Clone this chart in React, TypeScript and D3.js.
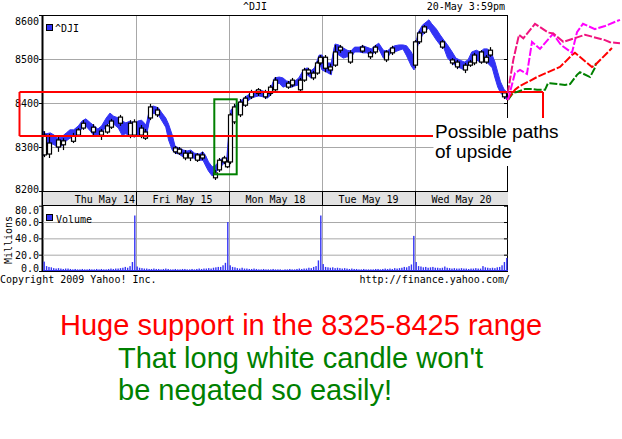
import React from 'react';
import * as d3 from 'd3';

// ---------- data ----------
const dayLabels = ['Thu May 14', 'Fri May 15', 'Mon May 18', 'Tue May 19', 'Wed May 20'];
const priceTicks = [8200, 8300, 8400, 8500, 8600];
const volTicks = [0, 20, 40, 60, 80];

// [time in trading days, high, low] of the blue ^DJI trace
const blueBand: [number, number, number][] = [
  [0.0, 8336, 8280], [0.03, 8330, 8293], [0.08, 8332, 8309], [0.12, 8327, 8305], [0.16, 8320, 8298],
  [0.2, 8323, 8302], [0.25, 8332, 8314], [0.29, 8339, 8320], [0.33, 8339, 8323], [0.38, 8348, 8330],
  [0.42, 8359, 8343], [0.46, 8364, 8348], [0.51, 8355, 8336], [0.55, 8348, 8325], [0.59, 8341, 8327],
  [0.63, 8348, 8332], [0.68, 8366, 8348], [0.72, 8377, 8357], [0.76, 8370, 8352], [0.81, 8366, 8343],
  [0.85, 8359, 8327], [0.89, 8355, 8330], [0.94, 8359, 8325], [0.98, 8352, 8323],
  [1.02, 8359, 8327], [1.06, 8361, 8334], [1.11, 8350, 8323], [1.15, 8391, 8366], [1.19, 8393, 8377],
  [1.24, 8389, 8373], [1.28, 8377, 8359], [1.32, 8366, 8345], [1.35, 8352, 8316], [1.39, 8327, 8293],
  [1.42, 8302, 8286], [1.46, 8298, 8284], [1.51, 8293, 8277], [1.55, 8291, 8277], [1.59, 8293, 8280],
  [1.63, 8286, 8273], [1.68, 8284, 8270], [1.72, 8289, 8270], [1.75, 8280, 8257], [1.78, 8266, 8245],
  [1.82, 8255, 8234], [1.86, 8259, 8243], [1.9, 8270, 8252], [1.95, 8277, 8264], [1.98, 8270, 8257],
  [2.02, 8384, 8357], [2.06, 8393, 8366], [2.11, 8402, 8377], [2.15, 8409, 8393], [2.19, 8416, 8402],
  [2.24, 8423, 8411], [2.28, 8427, 8414], [2.32, 8430, 8416], [2.37, 8427, 8414], [2.41, 8425, 8411],
  [2.45, 8434, 8418], [2.49, 8457, 8443], [2.54, 8459, 8445], [2.58, 8457, 8436], [2.62, 8450, 8439],
  [2.67, 8448, 8436], [2.71, 8450, 8439], [2.75, 8457, 8441], [2.8, 8475, 8459], [2.84, 8480, 8464],
  [2.88, 8473, 8457], [2.92, 8480, 8461], [2.97, 8509, 8493], [3.0, 8509, 8475],
  [3.05, 8491, 8470], [3.1, 8491, 8464], [3.14, 8534, 8516], [3.18, 8532, 8509], [3.23, 8525, 8502],
  [3.27, 8520, 8505], [3.31, 8518, 8502], [3.35, 8527, 8516], [3.4, 8527, 8516], [3.44, 8530, 8514],
  [3.48, 8527, 8514], [3.53, 8523, 8509], [3.57, 8530, 8516], [3.61, 8536, 8523], [3.66, 8520, 8502],
  [3.7, 8518, 8502], [3.74, 8525, 8514], [3.78, 8530, 8516], [3.83, 8532, 8520], [3.87, 8532, 8523],
  [3.91, 8530, 8507], [3.96, 8516, 8484], [3.99, 8502, 8475],
  [4.03, 8559, 8532], [4.08, 8577, 8554], [4.12, 8584, 8566], [4.15, 8589, 8570], [4.18, 8580, 8559],
  [4.23, 8568, 8543], [4.27, 8555, 8532], [4.31, 8543, 8525], [4.35, 8532, 8502], [4.4, 8516, 8491],
  [4.44, 8502, 8484], [4.48, 8498, 8480], [4.53, 8493, 8475], [4.57, 8498, 8484], [4.61, 8516, 8493],
  [4.66, 8520, 8498], [4.7, 8516, 8493], [4.74, 8523, 8498], [4.78, 8523, 8491], [4.83, 8509, 8480],
  [4.86, 8493, 8457], [4.89, 8470, 8436], [4.92, 8448, 8423], [4.96, 8430, 8414], [4.99, 8425, 8407],
];

// [time, open, high, low, close]
const candles: [number, number, number, number, number][] = [
  [0.011, 8282, 8336, 8277, 8327], [0.065, 8309, 8330, 8275, 8284], [0.161, 8300, 8323, 8289, 8316],
  [0.215, 8314, 8320, 8293, 8305], [0.323, 8313, 8332, 8309, 8325], [0.376, 8327, 8343, 8323, 8339],
  [0.43, 8343, 8361, 8339, 8354], [0.538, 8345, 8352, 8323, 8334], [0.624, 8327, 8341, 8316, 8336],
  [0.688, 8334, 8352, 8330, 8348], [0.731, 8345, 8364, 8341, 8359], [0.828, 8368, 8373, 8348, 8354],
  [0.935, 8354, 8361, 8320, 8327], [0.978, 8327, 8363, 8322, 8357],
  [1.054, 8343, 8350, 8320, 8327], [1.097, 8320, 8341, 8316, 8334], [1.151, 8366, 8398, 8361, 8391],
  [1.226, 8384, 8391, 8368, 8373], [1.419, 8298, 8302, 8284, 8289], [1.462, 8295, 8300, 8282, 8286],
  [1.527, 8286, 8293, 8270, 8275], [1.581, 8286, 8291, 8268, 8275], [1.656, 8282, 8286, 8266, 8270],
  [1.71, 8282, 8289, 8270, 8275], [1.849, 8241, 8248, 8225, 8230], [1.892, 8248, 8275, 8243, 8270],
  [1.946, 8275, 8280, 8261, 8266], [1.978, 8266, 8270, 8252, 8255], [2.011, 8266, 8377, 8261, 8373],
  [2.054, 8357, 8398, 8352, 8391], [2.118, 8373, 8409, 8368, 8402], [2.172, 8395, 8416, 8391, 8411],
  [2.237, 8414, 8430, 8409, 8425], [2.312, 8422, 8434, 8416, 8430], [2.387, 8425, 8430, 8409, 8414],
  [2.441, 8422, 8441, 8416, 8436], [2.495, 8430, 8459, 8425, 8452], [2.634, 8445, 8450, 8432, 8436],
  [2.677, 8441, 8457, 8436, 8452], [2.763, 8430, 8457, 8425, 8452], [2.806, 8452, 8480, 8448, 8475],
  [2.849, 8475, 8480, 8464, 8468], [2.903, 8468, 8473, 8452, 8457], [2.946, 8468, 8495, 8464, 8491],
  [2.978, 8491, 8509, 8486, 8504],
  [3.032, 8504, 8509, 8470, 8479], [3.086, 8482, 8489, 8466, 8475], [3.14, 8486, 8532, 8482, 8516],
  [3.194, 8520, 8532, 8514, 8527], [3.301, 8514, 8520, 8489, 8493], [3.43, 8518, 8532, 8514, 8527],
  [3.516, 8514, 8518, 8500, 8505], [3.57, 8516, 8532, 8511, 8527], [3.688, 8516, 8520, 8493, 8498],
  [3.753, 8514, 8530, 8509, 8525], [4.0, 8486, 8543, 8479, 8539],
  [4.043, 8539, 8564, 8534, 8559], [4.097, 8561, 8577, 8557, 8573], [4.29, 8539, 8543, 8523, 8527],
  [4.398, 8498, 8502, 8486, 8491], [4.452, 8493, 8498, 8477, 8482], [4.538, 8486, 8491, 8468, 8475],
  [4.591, 8486, 8498, 8482, 8493], [4.634, 8491, 8514, 8486, 8509], [4.71, 8493, 8520, 8489, 8516],
  [4.763, 8504, 8509, 8489, 8493], [4.806, 8509, 8527, 8505, 8520], [4.957, 8423, 8427, 8409, 8414],
];

// volume in millions, 39 bars per day
const volDay1 = [11.5, 6, 5, 4.5, 3.5, 3, 3.5, 3, 2.5, 3, 3, 2.5, 2, 2.5, 2, 2, 2.5, 2, 2, 2.5, 2, 2, 2.5, 2, 2.5, 2, 2, 2.5, 3, 2.5, 3, 3, 3.5, 4, 5, 4, 6, 11, 68];
const volDay2 = [5.5, 4, 3.5, 3, 3, 2.5, 2.5, 3, 2.5, 2.5, 2, 2.5, 3, 2.5, 2, 2, 2.5, 2, 2, 2.5, 2.5, 2, 2, 2.5, 2, 2.5, 3, 2.5, 3, 3, 3.5, 3, 4, 4.5, 5, 5, 7, 10, 60];
const volDay3 = [7, 5, 4.5, 3.5, 3, 4, 3, 3, 2.5, 2.5, 3, 2.5, 2, 2, 2.5, 2, 2, 2, 2.5, 2, 2, 2, 1.5, 2, 2, 2.5, 2, 2, 2.5, 3, 2.5, 3, 3, 4, 3.5, 5, 6, 13, 68];
const volDay4 = [8.5, 5, 4.5, 4, 4.5, 3.5, 4, 3.5, 3, 3.5, 3, 2.5, 3, 2.5, 2.5, 2, 2, 2.5, 2, 2, 2, 2, 2.5, 2.5, 2, 2.5, 3, 2.5, 3, 2.5, 3.5, 3, 3.5, 4, 5, 4.5, 6, 8, 43];
const volDay5 = [11, 6, 5.5, 4.5, 5, 4, 4.5, 5, 4, 4, 3.5, 4, 5.5, 4, 3.5, 3, 3.5, 3, 3, 3.5, 3, 3, 2.5, 3, 3, 3.5, 3, 3, 6, 4.5, 4, 3.5, 4, 3.5, 4.5, 5, 7, 11, 16];

// hand-drawn projected paths [time, price]
const pathDeepPink: [number, number][] = [
  [4.997, 8422], [5.057, 8498], [5.118, 8555], [5.165, 8547], [5.29, 8580], [5.433, 8560], [5.487, 8558],
  [5.595, 8539], [5.828, 8555], [6.043, 8543], [6.097, 8538], [6.151, 8537], [6.204, 8536],
];
const pathMagenta: [number, number][] = [
  [5.0, 8407], [5.075, 8468], [5.129, 8475], [5.204, 8466], [5.258, 8539], [5.344, 8523], [5.484, 8557],
  [5.57, 8532], [5.688, 8514], [5.742, 8561], [5.806, 8580], [5.935, 8568], [6.043, 8575], [6.204, 8589],
];
const pathRed: [number, number][] = [
  [4.989, 8407], [5.075, 8430], [5.129, 8439], [5.215, 8448], [5.312, 8459], [5.559, 8482], [5.613, 8493],
  [5.688, 8509], [5.72, 8514], [5.903, 8482], [5.935, 8486], [6.011, 8502], [6.118, 8525],
];
const pathGreen: [number, number][] = [
  [5.0, 8407], [5.054, 8423], [5.097, 8425], [5.183, 8432], [5.258, 8432], [5.312, 8430], [5.398, 8430],
  [5.43, 8445], [5.452, 8445], [5.613, 8441], [5.667, 8443], [5.742, 8464], [5.774, 8470], [5.882, 8459],
  [5.935, 8480], [5.946, 8491],
];

const supportBand = [8325, 8425];

// ---------- component ----------
const MONO = '"DejaVu Sans Mono", monospace';
const SANS = '"Liberation Sans", Arial, sans-serif';
const BLUE = '#3333f5';
const GRID = '#a8a8a8';

export default function App() {
  const L = 43, R = 508;
  const x = d3.scaleLinear().domain([0, 5]).range([L, R]);
  const y = d3.scaleLinear().domain([8200, 8600]).range([191, 15]);
  const yv = d3.scaleLinear().domain([0, 80]).range([271, 205.7]);

  const area = d3.area<[number, number, number]>()
    .x(d => x(d[0])).y0(d => y(d[2])).y1(d => y(d[1]));
  const mid = d3.line<[number, number, number]>()
    .x(d => x(d[0])).y(d => y((d[1] + d[2]) / 2));
  const pline = d3.line<[number, number]>().x(d => x(d[0])).y(d => y(d[1]));

  const vols = [volDay1, volDay2, volDay3, volDay4, volDay5];
  const dayBounds = [1, 2, 3, 4];

  const projections: [[number, number][], string][] = [
    [pathGreen, '#008000'], [pathRed, '#ff0000'], [pathMagenta, '#ff00ff'], [pathDeepPink, '#f0147f'],
  ];

  const supTop = y(supportBand[1]);
  const supBot = y(supportBand[0]);

  return (
    <svg width={622} height={439} style={{ position: 'absolute', left: 0, top: 0, background: '#fff' }}
      fontFamily={MONO}>
      <rect x={0} y={0} width={622} height={439} fill="#fff" />
      {/* title */}
      <text x={255} y={10} fontSize={10} textAnchor="middle">^DJI</text>
      <text x={505} y={10} fontSize={10} textAnchor="end">20-May 3:59pm</text>

      {/* price grid */}
      {priceTicks.slice(1, 4).map(p => (
        <line key={p} x1={L} x2={R} y1={y(p) + 0.5} y2={y(p) + 0.5} stroke={GRID} />
      ))}
      {dayBounds.map(d => (
        <line key={d} x1={Math.round(x(d)) + 0.5} x2={Math.round(x(d)) + 0.5} y1={15} y2={191} stroke={GRID} />
      ))}
      {priceTicks.map(p => (
        <g key={'t' + p}>
          <line x1={39} x2={L} y1={y(p) + 0.5} y2={y(p) + 0.5} stroke="#000" />
          <line x1={R - 4} x2={R} y1={y(p) + 0.5} y2={y(p) + 0.5} stroke="#000" />
          <text x={39} y={Math.min(193, Math.max(25, y(p) + 4))} fontSize={10} textAnchor="end">{p}</text>
        </g>
      ))}

      {/* blue trace */}
      <path d={area(blueBand) || ''} fill={BLUE} stroke={BLUE} strokeWidth={1} strokeLinejoin="miter" />
      <path d={mid(blueBand) || ''} fill="none" stroke={BLUE} strokeWidth={2.5} />

      {/* candles */}
      {candles.map((c, i) => {
        const cx = Math.round(x(c[0])) + 0.5;
        const top = y(Math.max(c[1], c[4]));
        const bot = y(Math.min(c[1], c[4]));
        return (
          <g key={i} stroke="#000" strokeWidth={1.2}>
            <line x1={cx} x2={cx} y1={y(c[2])} y2={y(c[3])} />
            <rect x={cx - 2} y={top} width={4} height={Math.max(1.5, bot - top)} fill="#fff" />
          </g>
        );
      })}

      {/* legend */}
      <rect x={46.5} y={24.5} width={6} height={6} fill={BLUE} stroke="#000" />
      <text x={55} y={31.5} fontSize={10}>^DJI</text>

      {/* frame */}
      <line x1={L} x2={R} y1={15.5} y2={15.5} stroke="#000" />
      <line x1={R - 0.5} x2={R - 0.5} y1={15} y2={271.5} stroke="#000" />
      <line x1={L - 0.5} x2={L - 0.5} y1={15} y2={271.5} stroke="#000" strokeWidth={2} />

      {/* date band */}
      <rect x={L} y={192} width={R - L} height={13} fill="#e2e2e2" />
      <line x1={L} x2={R} y1={191.5} y2={191.5} stroke="#000" />
      <line x1={L} x2={R} y1={205.5} y2={205.5} stroke="#000" />
      {dayBounds.map(d => (
        <line key={'b' + d} x1={Math.round(x(d)) + 0.5} x2={Math.round(x(d)) + 0.5} y1={192} y2={205} stroke="#000" />
      ))}
      {dayLabels.map((lab, i) => (
        i === 0
          ? <text key={lab} x={x(1) - 1} y={202.5} fontSize={10} textAnchor="end">{lab}</text>
          : <text key={lab} x={x(i + 0.5)} y={202.5} fontSize={10} textAnchor="middle">{lab}</text>
      ))}

      {/* volume panel */}
      {volTicks.slice(1, 4).map(v => (
        <line key={'vg' + v} x1={L} x2={R} y1={yv(v) + 0.5} y2={yv(v) + 0.5} stroke={GRID} />
      ))}
      {dayBounds.map(d => (
        <line key={'vd' + d} x1={Math.round(x(d)) + 0.5} x2={Math.round(x(d)) + 0.5} y1={206} y2={271} stroke={GRID} />
      ))}
      {vols.map((arr, d) => arr.map((v, i) => {
        const bx = x(d + (i + 0.5) / arr.length);
        return <rect key={d + '-' + i} x={bx - 0.7} y={yv(v)} width={1.4} height={yv(0) - yv(v)} fill={BLUE} />;
      }))}
      <line x1={L} x2={R} y1={270.5} y2={270.5} stroke={BLUE} />
      {volTicks.map(v => (
        <g key={'vt' + v}>
          <line x1={39} x2={L} y1={yv(v) + 0.5} y2={yv(v) + 0.5} stroke="#000" />
          <line x1={R - 4} x2={R} y1={yv(v) + 0.5} y2={yv(v) + 0.5} stroke="#000" />
          <text x={39} y={Math.min(271.7, Math.max(214, yv(v) + 4))} fontSize={10} textAnchor="end">{v.toFixed(1)}</text>
        </g>
      ))}
      <line x1={L} x2={R} y1={271.5} y2={271.5} stroke="#000" />
      <rect x={46.5} y={214.5} width={6} height={6} fill={BLUE} stroke="#000" />
      <text x={56} y={222.5} fontSize={10}>Volume</text>
      <text transform="translate(11.5,240) rotate(-90)" fontSize={10} textAnchor="middle">Millions</text>

      {/* footer */}
      <text x={0} y={282.5} fontSize={10}>Copyright 2009 Yahoo! Inc.</text>
      <text x={510} y={282.5} fontSize={10} textAnchor="end">http://finance.yahoo.com/</text>

      {/* annotations: support zone */}
      <g stroke="#ff0000" strokeWidth={2} fill="none">
        <line x1={19.5} x2={543} y1={supTop} y2={supTop} />
        <line x1={19.5} x2={19.5} y1={supTop} y2={supBot} />
        <line x1={19.5} x2={433} y1={supBot} y2={supBot} />
        <line x1={543} x2={543} y1={supTop} y2={118} />
      </g>
      {/* long white candle box */}
      <rect x={214.3} y={99.3} width={22.4} height={75} fill="none" stroke="#008000" strokeWidth={2} />

      {/* projected paths */}
      {projections.map(([pts, col], i) => (
        <path key={i} d={pline(pts) || ''} fill="none" stroke={col} strokeWidth={2} strokeDasharray="8,2" />
      ))}

      {/* callout text */}
      <rect x={433.5} y={118} width={127} height={48} fill="#fff" />
      <g fontFamily={SANS} fontSize={19} fill="#000">
        <text x={435} y={137.5}>Possible paths</text>
        <text x={435} y={157.5}>of upside</text>
      </g>

      <g fontFamily={SANS} fontSize={29}>
        <text x={60} y={335} fill="#ff0000">Huge support in the 8325-8425 range</text>
        <text x={118} y={368} fill="#008000">That long white candle won't</text>
        <text x={118} y={400} fill="#008000">be negated so easily!</text>
      </g>
    </svg>
  );
}
